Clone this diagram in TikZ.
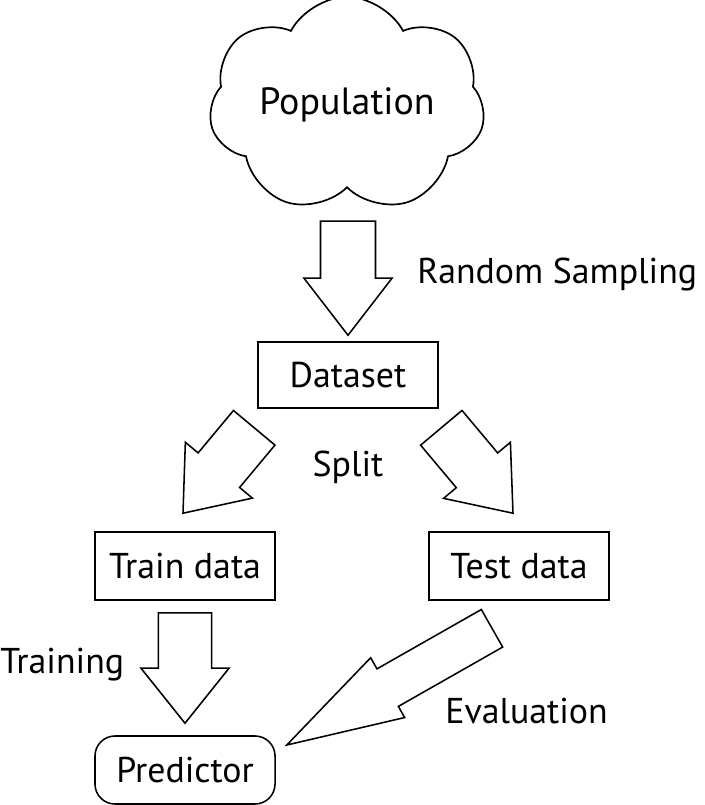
\documentclass[tikz,border=0pt]{standalone}
\usepackage{fontspec}
\setmainfont{PT Sans}
\usetikzlibrary{calc,shapes.symbols}

\tikzset{
  box/.style={draw, line width=1.1pt, minimum width=4.5cm, minimum height=1.7cm, inner sep=0pt},
  lbl/.style={inner sep=0pt},
  blockarr/.style={draw, line width=1.1pt, line join=miter}
}
% hollow block arrow: tail, tip, half shaft, half head, head length
\newcommand{\blockarrow}[5]{%
  \coordinate (hb) at ($(#2)!#5!(#1)$);
  \draw[blockarr] ($(#1)!#3!90:(#2)$) -- ($(hb)!#3!90:(#2)$) -- ($(hb)!#4!90:(#2)$) -- (#2)
    -- ($(hb)!#4!-90:(#2)$) -- ($(hb)!#3!-90:(#2)$) -- ($(#1)!#3!-90:(#2)$) -- cycle;
}

\begin{document}
\begin{tikzpicture}[x=0.025cm, y=-0.025cm, font=\fontsize{25.5}{30}\selectfont]
  \useasboundingbox (0,0) rectangle (705,805);

  \node[cloud, draw, line width=1.2pt, cloud puffs=7, cloud puff arc=125, aspect=1.48,
        inner sep=0pt, minimum width=6.9cm, minimum height=3.9cm] (population) at (347,105)
        {\fontsize{27}{30}\selectfont Population};
  \node[box, minimum height=1.65cm] (dataset) at (348,375) {Dataset};
  \node[box] (train) at (185,566) {Train data};
  \node[box] (test) at (519,566) {Test data};
  \node[box, rounded corners=0.5cm] (predictor) at (185,770) {Predictor};

  % labels
  \node[lbl, anchor=west] (sampling) at (417,275) {Random Sampling};
  \node[lbl] (split) at (348,467) {Split};
  \node[lbl, anchor=west] (training) at (0,665) {Training};
  \node[lbl, anchor=west] (evaluation) at (445,711) {Evaluation};

  % arrow ends
  \coordinate (a1) at ($(dataset.north)+(0,-120)$);
  \coordinate (b1) at ([yshift=0.15cm]dataset.north);
  \coordinate (a2) at ($(dataset.south west)+(-3,19)$);
  \coordinate (b2) at ($(train.north)+(-2,-18)$);
  \coordinate (a3) at ($(dataset.south east)+(2.5,19)$);
  \coordinate (b3) at ($(test.north)+(-6,-18)$);
  \coordinate (a4) at ($(train.south)+(0,12)$);
  \coordinate (b4) at ($(predictor.north)+(0,-12)$);
  \coordinate (a5) at ($(test.south)+(-27,27.5)$);
  \coordinate (b5) at ($(predictor.east)+(11,-25)$);

  \blockarrow{a1}{b1}{0.6875cm}{1.1cm}{1.425cm}
  \blockarrow{a2}{b2}{0.675cm}{1.09cm}{1.4cm}
  \blockarrow{a3}{b3}{0.675cm}{1.09cm}{1.4cm}
  \blockarrow{a4}{b4}{0.665cm}{1.1cm}{1.375cm}
  \blockarrow{a5}{b5}{0.54cm}{0.86cm}{2.9cm}
\end{tikzpicture}
\end{document}
